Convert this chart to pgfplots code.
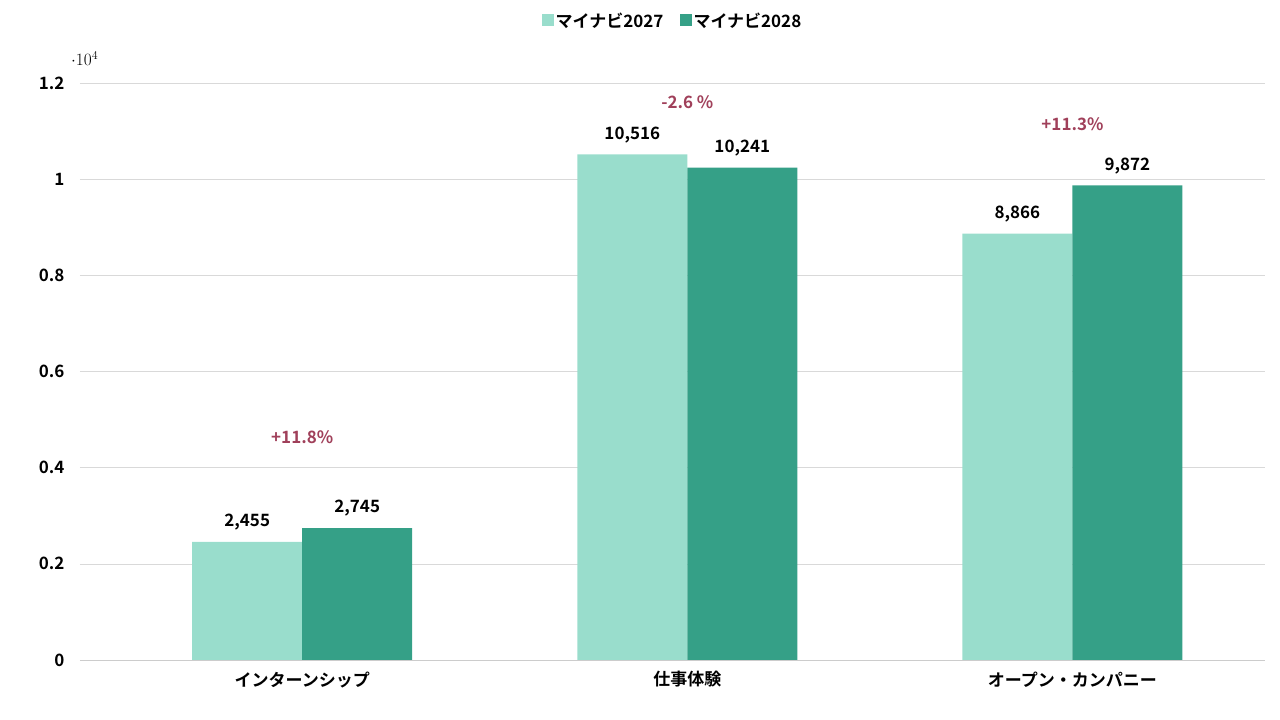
\documentclass[border=0pt]{standalone}
\usepackage{pgfplots}
\pgfplotsset{compat=1.18}
\usepackage{fontspec}
\setmainfont{Noto Sans CJK JP}[BoldFont={* Bold}]
\definecolor{cA}{HTML}{99DDCC}
\definecolor{cB}{HTML}{35A087}
\definecolor{cP}{HTML}{A0405A}
\begin{document}
\begin{tikzpicture}[x=1pt,y=1pt]
\useasboundingbox (-80,-60) rectangle (1200,660);
\begin{axis}[at={(0,0)},anchor=south west,scale only axis,width=1185pt,height=577pt,
 xmin=-0.577,xmax=2.5,ymin=0,ymax=12000,
 ybar=0pt,bar width=110pt,
 xtick=data,xticklabels={インターンシップ,仕事体験,オープン・カンパニー},
 ytick={0,2000,...,12000},
 /pgf/number format/assume math mode=true,
 /pgf/number format/1000 sep={,},
 ymajorgrids,grid style={gray!30},
 axis x line*=bottom,axis y line*=left,x axis line style={gray!40},y axis line style={draw=none},
 major tick length=0pt,
 ticklabel style={font=\bfseries\fontsize{17}{20}\selectfont},
 yticklabel style={xshift=-12pt},
 xticklabel style={yshift=-8pt},
 nodes near coords,
 nodes near coords style={font=\bfseries\fontsize{17}{20}\selectfont,/pgf/number format/assume math mode=true,/pgf/number format/1000 sep={,},yshift=8pt},
 legend style={at={(0.5,1)},anchor=south,yshift=50pt,draw=none,legend columns=2,font=\bfseries\fontsize{17}{20}\selectfont,/tikz/every even column/.append style={column sep=14pt}},
 legend image code/.code={\fill[#1] (0,-5pt) rectangle (12pt,7pt);},
 clip=false]
\addplot[fill=cA,draw=none] coordinates {(0,2455) (1,10516) (2,8866)};
\addplot[fill=cB,draw=none] coordinates {(0,2745) (1,10241) (2,9872)};
\legend{マイナビ2027,マイナビ2028}
\node[text=cP,font=\bfseries\fontsize{17}{20}\selectfont] at (axis cs:0,4636) {+11.8\%};
\node[text=cP,font=\bfseries\fontsize{17}{20}\selectfont] at (axis cs:1,11600) {-2.6 \%};
\node[text=cP,font=\bfseries\fontsize{17}{20}\selectfont] at (axis cs:2,11140) {+11.3\%};
\end{axis}
\end{tikzpicture}
\end{document}
